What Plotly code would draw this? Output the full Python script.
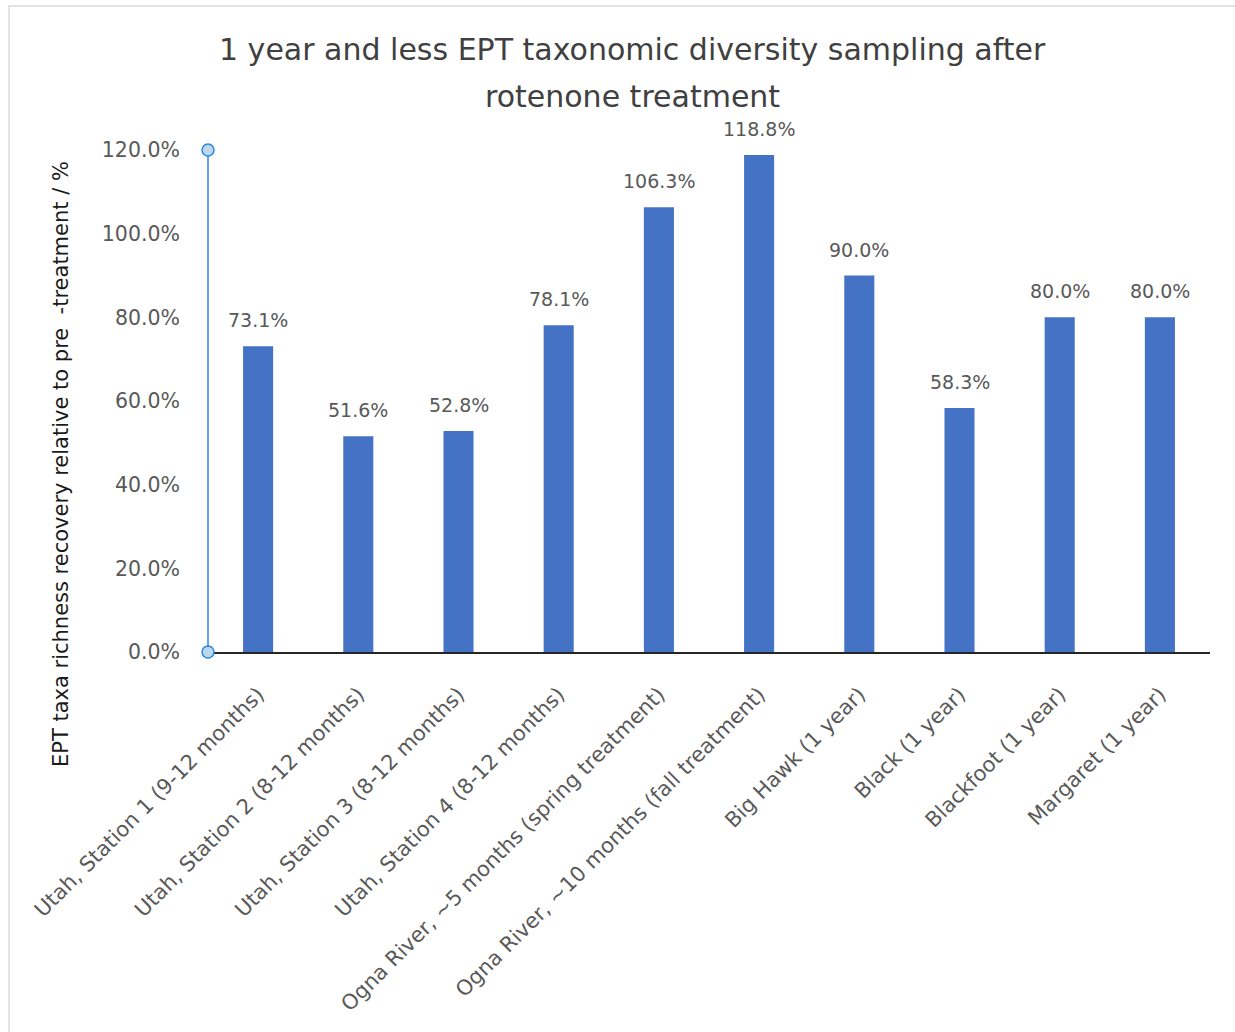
import plotly.graph_objects as go

categories = [
    "Utah, Station 1 (9-12 months)",
    "Utah, Station 2 (8-12 months)",
    "Utah, Station 3 (8-12 months)",
    "Utah, Station 4 (8-12 months)",
    "Ogna River, ~5 months (spring treatment)",
    "Ogna River, ~10 months (fall treatment)",
    "Big Hawk (1 year)",
    "Black (1 year)",
    "Blackfoot (1 year)",
    "Margaret (1 year)",
]
recovery = [0.731, 0.516, 0.528, 0.781, 1.063, 1.188, 0.900, 0.583, 0.800, 0.800]
ytick_vals = [0.0, 0.2, 0.4, 0.6, 0.8, 1.0, 1.2]
title_lines = ["1 year and less EPT taxonomic diversity sampling after", "rotenone treatment"]
y_title = "EPT taxa richness recovery relative to pre\u00a0\u00a0-treatment / %"

W, H = 1235, 1032
L, R, T, B = 208, 25, 150, 380
pw = W - L - R
ph = H - T - B

def px_x(px):
    return (px - L) / pw

def px_y(py):
    return (H - B - py) / ph

FONT = "DejaVu Sans"
GREY = "#595959"

fig = go.Figure(
    go.Bar(
        x=categories,
        y=recovery,
        marker=dict(color="#4472C4", line=dict(width=0)),
        width=0.3,
        hoverinfo="skip",
    )
)

fig.update_layout(
    width=W,
    height=H,
    margin=dict(l=L, r=R, t=T, b=B, autoexpand=False),
    paper_bgcolor="white",
    plot_bgcolor="white",
    showlegend=False,
)

fig.update_xaxes(
    type="category",
    tickangle=-45,
    tickfont=dict(family=FONT, size=21, color=GREY),
    showline=True,
    linecolor="#262626",
    linewidth=1.5,
    ticks="",
    showgrid=False,
    range=[-0.5, len(categories) - 0.5],
    ticklabelstandoff=20,
)
fig.update_yaxes(
    range=[0, 1.2],
    tickvals=ytick_vals,
    tickformat=".1%",
    tickfont=dict(family=FONT, size=20.5, color=GREY),
    showgrid=False,
    zeroline=False,
    showline=False,
    ticks="",
    ticklabelstandoff=27,
)

# data labels
for c, v in zip(categories, recovery):
    fig.add_annotation(
        x=c, y=v, xref="x", yref="y",
        text=f"{v * 100:.1f}%",
        showarrow=False,
        yanchor="bottom", yshift=13,
        font=dict(family=FONT, size=19, color=GREY),
    )

# title lines
for line, py in zip(title_lines, [50, 96]):
    fig.add_annotation(
        text=line, xref="paper", yref="paper",
        x=px_x(632), y=px_y(py),
        xanchor="center", yanchor="middle",
        showarrow=False,
        font=dict(family=FONT, size=30, color="#404040"),
    )

# y-axis title
fig.add_annotation(
    text=y_title,
    xref="paper", yref="paper",
    x=px_x(61), y=px_y(464),
    textangle=-90,
    showarrow=False,
    font=dict(family=FONT, size=21, color="#1a1a1a"),
    xanchor="center", yanchor="middle",
)

# chart border
fig.add_shape(
    type="rect", xref="paper", yref="paper",
    x0=px_x(9), x1=px_x(1250), y0=px_y(1045), y1=px_y(6),
    line=dict(color="#D9D9D9", width=1.5),
    fillcolor="rgba(0,0,0,0)", layer="below",
)

# selected y-axis line with handles
fig.add_shape(
    type="line", xref="paper", yref="paper",
    x0=0, x1=0, y0=0, y1=1,
    line=dict(color="#2E86DE", width=1.5),
)
for yv in [0, 1]:
    fig.add_shape(
        type="circle", xref="paper", yref="paper",
        xsizemode="pixel", ysizemode="pixel",
        xanchor=0, yanchor=yv,
        x0=-6, x1=6, y0=-6, y1=6,
        line=dict(color="#2E86DE", width=1.5),
        fillcolor="#BDD7EE",
    )

fig.write_html("out.html")
